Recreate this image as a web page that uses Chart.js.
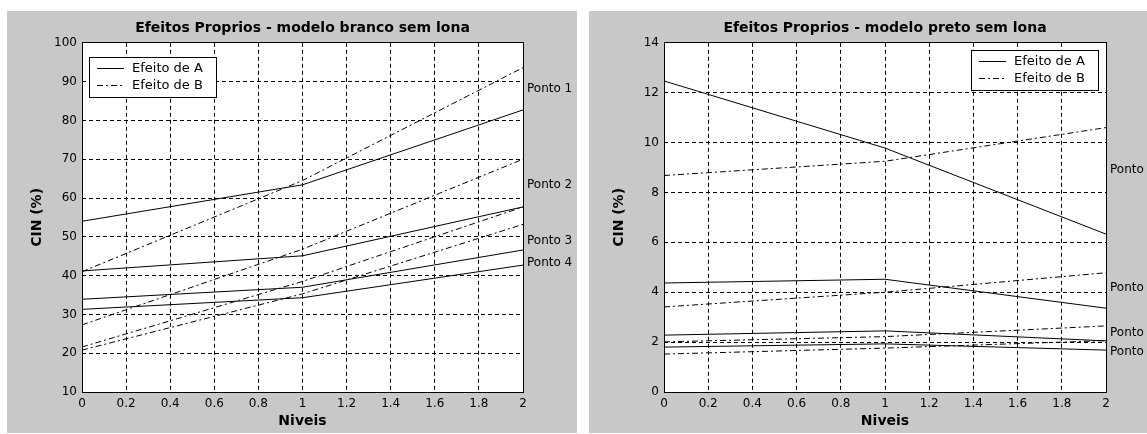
<!DOCTYPE html>
<html>
<head>
<meta charset="utf-8">
<script src="https://cdn.jsdelivr.net/npm/chart.js@4"></script>
<style>
  body { margin: 0; background: #fff; width: 1147px; height: 434px; position: relative; overflow: hidden; }
  .painel { position: absolute; background: #c8c8c8; }
</style>
</head>
<body>
<div class="painel" style="left:7px; top:11px; width:570px; height:422px;">
  <canvas id="graficoBranco" width="570" height="422"></canvas>
</div>
<div class="painel" style="left:589px; top:11px; width:558px; height:422px;">
  <canvas id="graficoPreto" width="558" height="422"></canvas>
</div>
<script>
// niveis e ticks
const niveis = [0, 1, 2];
const ticksX = [0, 0.2, 0.4, 0.6, 0.8, 1, 1.2, 1.4, 1.6, 1.8, 2];
const ticksBrancoY = [10, 20, 30, 40, 50, 60, 70, 80, 90, 100];
const ticksPretoY = [0, 2, 4, 6, 8, 10, 12, 14];
const pontos = ['Ponto 1', 'Ponto 2', 'Ponto 3', 'Ponto 4'];

// modelo branco sem lona (CIN %)
const brancoEfeitoA = [
  [54.0, 63.4, 82.7],
  [41.2, 45.1, 57.7],
  [33.9, 37.0, 46.6],
  [31.3, 34.3, 42.7],
];
const brancoEfeitoB = [
  [41.0, 64.5, 93.6],
  [27.3, 46.8, 70.0],
  [21.6, 38.5, 57.7],
  [20.8, 35.3, 53.2],
];
const brancoPontoY = [88.2, 63.4, 49.0, 43.2];

// modelo preto sem lona (CIN %)
const pretoEfeitoA = [
  [12.47, 9.78, 6.33],
  [4.37, 4.52, 3.36],
  [2.28, 2.45, 2.05],
  [1.80, 1.93, 1.68],
];
const pretoEfeitoB = [
  [8.68, 9.25, 10.60],
  [3.41, 4.00, 4.78],
  [2.01, 2.22, 2.65],
  [1.52, 1.76, 2.06],
];
const pretoPontoY = [8.9, 4.16, 2.39, 1.62];

const FONTE = "'DejaVu Sans', sans-serif";
const TRACO_B = [6, 3, 2, 3];

// mesmo alinhamento que o Chart.js usa nas linhas de grade
const alinha = (p) => Math.round(p - 0.5) + 0.5;

const fundoPlugin = {
  id: 'fundo',
  beforeDraw(chart) {
    const { ctx, chartArea: a } = chart;
    ctx.save();
    ctx.fillStyle = '#c8c8c8';
    ctx.fillRect(0, 0, chart.width, chart.height);
    ctx.fillStyle = '#ffffff';
    ctx.fillRect(a.left, a.top, a.right - a.left, a.bottom - a.top);
    ctx.restore();
  },
  afterDraw(chart) {
    const { ctx, chartArea: a } = chart;
    ctx.save();
    ctx.strokeStyle = '#000';
    ctx.lineWidth = 1;
    ctx.setLineDash([]);
    const l = alinha(a.left), t = alinha(a.top), r = alinha(a.right), b = alinha(a.bottom);
    ctx.strokeRect(l, t, r - l, b - t);
    ctx.restore();
  },
};

// legenda dentro da area + rotulos "Ponto n" a direita
const anotacoesPlugin = {
  id: 'anotacoes',
  afterDraw(chart, args, opts) {
    const { ctx, chartArea: a } = chart;
    const yScale = chart.scales.y;
    ctx.save();

    ctx.font = '12px ' + FONTE;
    ctx.fillStyle = '#000';
    ctx.textBaseline = 'middle';
    ctx.textAlign = 'left';
    opts.pontoY.forEach((v, i) => {
      ctx.fillText(pontos[i], a.right + 4, yScale.getPixelForValue(v));
    });

    const w = 127, h = 40;
    const x = opts.lado === 'esquerda' ? Math.round(a.left) + 7 : Math.round(a.right) - 8 - w;
    const y = Math.round(a.top) + opts.dy;
    ctx.fillStyle = '#fff';
    ctx.fillRect(x, y, w, h);
    ctx.strokeStyle = '#000';
    ctx.lineWidth = 1;
    ctx.strokeRect(x + 0.5, y + 0.5, w, h);

    const itens = [
      { texto: 'Efeito de A', dash: [] },
      { texto: 'Efeito de B', dash: TRACO_B },
    ];
    ctx.font = '13px ' + FONTE;
    itens.forEach((it, i) => {
      const yy = y + 11.5 + i * 17;
      ctx.setLineDash(it.dash);
      ctx.beginPath();
      ctx.moveTo(x + 8, yy);
      ctx.lineTo(x + 35, yy);
      ctx.stroke();
      ctx.setLineDash([]);
      ctx.fillStyle = '#000';
      ctx.fillText(it.texto, x + 43, yy);
    });
    ctx.restore();
  },
};

function montaDatasets(efeitoA, efeitoB) {
  const ds = [];
  efeitoA.forEach((serie, p) => {
    ds.push({
      label: 'Efeito de A - ' + pontos[p],
      data: niveis.map((n, i) => ({ x: n, y: serie[i] })),
      borderColor: '#000',
      borderWidth: 1,
      pointRadius: 0,
      tension: 0,
      fill: false,
    });
  });
  efeitoB.forEach((serie, p) => {
    ds.push({
      label: 'Efeito de B - ' + pontos[p],
      data: niveis.map((n, i) => ({ x: n, y: serie[i] })),
      borderColor: '#000',
      borderWidth: 1,
      borderDash: TRACO_B,
      pointRadius: 0,
      tension: 0,
      fill: false,
    });
  });
  return ds;
}

function criaGrafico(id, titulo, efeitoA, efeitoB, ticksY, pontoY, ladoLegenda, dyLegenda, padDireita) {
  const ctx = document.getElementById(id).getContext('2d');
  return new Chart(ctx, {
    type: 'line',
    data: { datasets: montaDatasets(efeitoA, efeitoB) },
    plugins: [fundoPlugin, anotacoesPlugin],
    options: {
      responsive: false,
      animation: false,
      layout: { padding: { left: 0, right: padDireita, top: 0, bottom: 0 } },
      plugins: {
        legend: { display: false },
        tooltip: { enabled: false },
        title: {
          display: true,
          text: titulo,
          fullSize: false,
          color: '#000',
          font: { family: FONTE, size: 14, weight: 'bold' },
          padding: { top: 9, bottom: 6 },
        },
        anotacoes: { pontoY, lado: ladoLegenda, dy: dyLegenda },
      },
      scales: {
        x: {
          type: 'linear',
          min: ticksX[0],
          max: ticksX[ticksX.length - 1],
          afterBuildTicks: (s) => { s.ticks = ticksX.map((v) => ({ value: v })); },
          afterFit: (s) => { s.height = 41; },
          ticks: {
            color: '#000',
            font: { family: FONTE, size: 12 },
            padding: 5,
            maxRotation: 0,
            autoSkip: false,
            callback: (v) => String(Math.round(v * 10) / 10),
          },
          grid: { color: '#000', lineWidth: 1, drawTicks: false },
          border: { display: false, dash: [4, 3] },
          title: {
            display: true,
            text: 'Niveis',
            color: '#000',
            font: { family: FONTE, size: 14, weight: 'bold' },
            padding: { top: 0, bottom: 3 },
          },
        },
        y: {
          type: 'linear',
          min: ticksY[0],
          max: ticksY[ticksY.length - 1],
          afterBuildTicks: (s) => { s.ticks = ticksY.map((v) => ({ value: v })); },
          afterFit: (s) => { s.width = 75; },
          ticks: {
            color: '#000',
            font: { family: FONTE, size: 12 },
            padding: 5,
            autoSkip: false,
            callback: (v) => String(v),
          },
          grid: { color: '#000', lineWidth: 1, drawTicks: false },
          border: { display: false, dash: [4, 3] },
          title: {
            display: true,
            text: 'CIN (%)',
            color: '#000',
            font: { family: FONTE, size: 14, weight: 'bold' },
            padding: { top: 22, bottom: 0 },
          },
        },
      },
    },
  });
}

criaGrafico('graficoBranco', 'Efeitos Proprios - modelo branco sem lona',
  brancoEfeitoA, brancoEfeitoB, ticksBrancoY, brancoPontoY, 'esquerda', 14, 54);
criaGrafico('graficoPreto', 'Efeitos Proprios - modelo preto sem lona',
  pretoEfeitoA, pretoEfeitoB, ticksPretoY, pretoPontoY, 'direita', 7, 41);
</script>
</body>
</html>
